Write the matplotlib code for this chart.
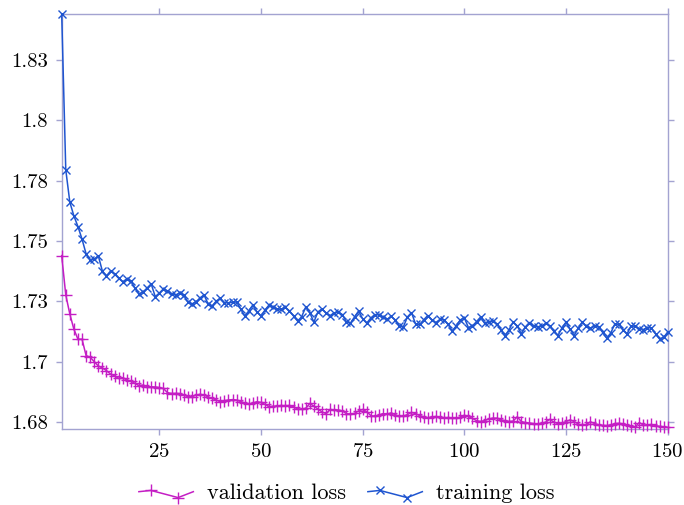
import matplotlib
matplotlib.use("Agg")
import matplotlib.pyplot as plt
import numpy as np
from matplotlib.legend_handler import HandlerLine2D
from matplotlib.lines import Line2D

plt.rcParams['font.family'] = ['cmr10', 'DejaVu Serif']
plt.rcParams['axes.formatter.use_mathtext'] = True

epochs = np.arange(1, 151)

train_loss = [
    1.8440, 1.7795, 1.7661, 1.7604, 1.7560, 1.7508, 1.7447, 1.7422, 1.7425, 1.7439,
    1.7376, 1.7356, 1.7376, 1.7364, 1.7346, 1.7332, 1.7343, 1.7335, 1.7306, 1.7281,
    1.7289, 1.7306, 1.7323, 1.7270, 1.7285, 1.7302, 1.7294, 1.7281, 1.7277, 1.7285,
    1.7277, 1.7248, 1.7240, 1.7248, 1.7265, 1.7277, 1.7240, 1.7231, 1.7252, 1.7263,
    1.7244, 1.7245, 1.7246, 1.7248, 1.7219, 1.7190, 1.7211, 1.7236, 1.7207, 1.7190,
    1.7215, 1.7236, 1.7227, 1.7219, 1.7217, 1.7226, 1.7211, 1.7190, 1.7169, 1.7187,
    1.7227, 1.7203, 1.7165, 1.7207, 1.7219, 1.7203, 1.7192, 1.7203, 1.7207, 1.7196,
    1.7165, 1.7161, 1.7186, 1.7211, 1.7178, 1.7160, 1.7182, 1.7196, 1.7194, 1.7186,
    1.7176, 1.7188, 1.7174, 1.7149, 1.7145, 1.7186, 1.7204, 1.7157, 1.7155, 1.7174,
    1.7192, 1.7174, 1.7163, 1.7176, 1.7174, 1.7155, 1.7128, 1.7149, 1.7174, 1.7182,
    1.7142, 1.7149, 1.7167, 1.7186, 1.7159, 1.7165, 1.7169, 1.7157, 1.7134, 1.7107,
    1.7134, 1.7165, 1.7149, 1.7116, 1.7145, 1.7163, 1.7149, 1.7145, 1.7149, 1.7159,
    1.7149, 1.7126, 1.7109, 1.7140, 1.7165, 1.7135, 1.7109, 1.7140, 1.7165, 1.7147,
    1.7140, 1.7147, 1.7145, 1.7122, 1.7098, 1.7120, 1.7157, 1.7155, 1.7134, 1.7116,
    1.7149, 1.7147, 1.7138, 1.7134, 1.7142, 1.7140, 1.7116, 1.7095, 1.7101, 1.7124,
]

val_loss = [
    1.7440, 1.7277, 1.7198, 1.7135, 1.7094, 1.7094, 1.7026, 1.7019, 1.7001, 1.6983,
    1.6975, 1.6964, 1.6950, 1.6942, 1.6932, 1.6935, 1.6925, 1.6921, 1.6911, 1.6902,
    1.6904, 1.6898, 1.6897, 1.6896, 1.6894, 1.6890, 1.6873, 1.6869, 1.6870, 1.6869,
    1.6863, 1.6856, 1.6856, 1.6862, 1.6866, 1.6863, 1.6855, 1.6849, 1.6842, 1.6836,
    1.6840, 1.6842, 1.6844, 1.6842, 1.6836, 1.6830, 1.6824, 1.6830, 1.6835, 1.6832,
    1.6824, 1.6815, 1.6816, 1.6817, 1.6820, 1.6817, 1.6820, 1.6814, 1.6805, 1.6805,
    1.6808, 1.6828, 1.6817, 1.6805, 1.6793, 1.6786, 1.6803, 1.6801, 1.6801, 1.6797,
    1.6786, 1.6784, 1.6787, 1.6797, 1.6803, 1.6794, 1.6778, 1.6774, 1.6780, 1.6786,
    1.6784, 1.6789, 1.6782, 1.6774, 1.6776, 1.6782, 1.6791, 1.6786, 1.6778, 1.6773,
    1.6768, 1.6772, 1.6774, 1.6771, 1.6767, 1.6770, 1.6768, 1.6767, 1.6772, 1.6779,
    1.6774, 1.6766, 1.6757, 1.6753, 1.6757, 1.6764, 1.6767, 1.6767, 1.6760, 1.6757,
    1.6753, 1.6755, 1.6773, 1.6753, 1.6749, 1.6747, 1.6745, 1.6744, 1.6746, 1.6751,
    1.6762, 1.6751, 1.6745, 1.6747, 1.6753, 1.6760, 1.6753, 1.6743, 1.6737, 1.6741,
    1.6752, 1.6745, 1.6740, 1.6737, 1.6736, 1.6739, 1.6745, 1.6746, 1.6744, 1.6739,
    1.6735, 1.6731, 1.6749, 1.6739, 1.6739, 1.6741, 1.6736, 1.6733, 1.6731, 1.6729,
]

y_ticks = [1.675, 1.7, 1.725, 1.75, 1.775, 1.8, 1.825]
y_labels = ["1.68", "1.7", "1.73", "1.75", "1.78", "1.8", "1.83"]
x_ticks = [25, 50, 75, 100, 125, 150]

axis_color = "#a3a3d1"
purple = "#c41ec4"
blue = "#1f55d0"


class ZigZagHandler(HandlerLine2D):
    # legend sample: short line with a dip, marks on the two inner points
    def create_artists(self, legend, orig_handle, xdescent, ydescent,
                       width, height, fontsize, trans):
        xs = np.array([0.0, 0.22, 0.72, 1.0]) * width - xdescent
        ym = height / 2 - ydescent
        ys = ym + np.array([0.0, 0.08, -0.38, 0.0]) * height
        line = Line2D(xs, ys)
        self.update_prop(line, orig_handle, legend)
        line.set_markevery([1, 2])
        line.set_transform(trans)
        return [line]


fig = plt.figure(figsize=(6.84, 5.05), dpi=100)
ax = fig.add_axes([0.0902, 0.1499, 0.886, 0.8224])

ax.plot(epochs, val_loss, color=purple, lw=1.1, marker="+", ms=8, mew=1.0,
        label="validation loss", clip_on=False, zorder=3)
ax.plot(epochs, train_loss, color=blue, lw=1.1, marker="x", ms=6, mew=1.0,
        label="training loss", clip_on=False, zorder=3)

ax.set_xlim(1, 150)
ax.set_ylim(1.6721, 1.8440)
ax.set_xticks(x_ticks)
ax.set_yticks(y_ticks)
ax.set_yticklabels(y_labels)

for s in ax.spines.values():
    s.set_color(axis_color)
    s.set_linewidth(1.0)
ax.tick_params(direction="out", length=4, width=1.0, color=axis_color,
               labelsize=15, labelcolor="black", pad=6,
               top=True, right=True, labeltop=False, labelright=False)

ax.legend(loc="center", bbox_to_anchor=(0.47, -0.155), ncol=2, frameon=False,
          fontsize=16, handlelength=2.45, columnspacing=1.0,
          handletextpad=0.6, borderaxespad=0,
          handler_map={Line2D: ZigZagHandler()})

fig.savefig("out.png", dpi=100)
